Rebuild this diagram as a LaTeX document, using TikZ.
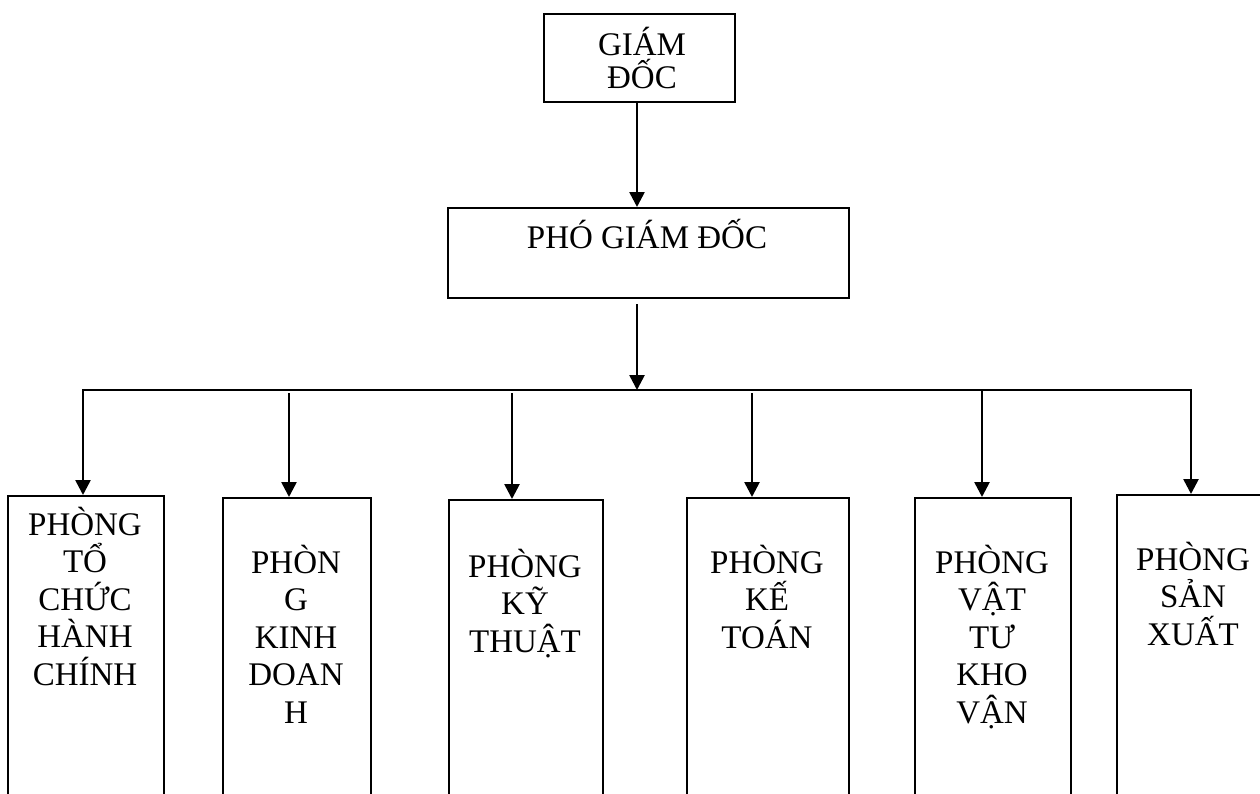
\documentclass[tikz,border=0pt]{standalone}
\usepackage{fontspec}
\setmainfont{Liberation Serif}
\usetikzlibrary{arrows.meta}
\newcommand{\lines}[2][37.5pt]{\vtop{\baselineskip=#1\lineskiplimit=-100pt\lineskip=0pt\halign{\hfil##\hfil\cr#2\crcr}}}
\begin{document}
\begin{tikzpicture}[x=1pt,y=-1pt,
  box/.style={draw, line width=2pt, rectangle, inner sep=0pt, anchor=north west},
  lbl/.style={font=\fontsize{33}{37.5}\selectfont, inner sep=0pt, anchor=base},
  conn/.style={line width=2.6pt, -{Triangle[length=15pt,width=15pt]}},
  tip/.tip={Triangle[length=15pt,width=15pt]}]
\useasboundingbox (0,0) rectangle (1260,793);
% boxes
\node[box, minimum width=191pt, minimum height=88pt] (gd) at (543,13) {};
\node[box, minimum width=401pt, minimum height=90pt] (pgd) at (447,207) {};
\node[box, minimum width=156pt, minimum height=330pt] (b1) at (7,495) {};
\node[box, minimum width=148pt, minimum height=330pt] (b2) at (222,497) {};
\node[box, minimum width=154pt, minimum height=330pt] (b3) at (448,499) {};
\node[box, minimum width=162pt, minimum height=330pt] (b4) at (686,497) {};
\node[box, minimum width=156pt, minimum height=330pt] (b5) at (914,497) {};
\node[box, minimum width=154pt, minimum height=330pt] (b6) at (1116,494) {};
% labels
\node[lbl] (tgd) at (642,55) {\lines[33.3pt]{GIÁM\cr ĐỐC}};
\node[lbl] (tpgd) at (647,248) {PHÓ GIÁM ĐỐC};
\node[lbl] (t1) at (85,535) {\lines{PHÒNG\cr TỔ\cr CHỨC\cr HÀNH\cr CHÍNH}};
\node[lbl] (t2) at (296,573) {\lines{PHÒN\cr G\cr KINH\cr DOAN\cr H}};
\node[lbl] (t3) at (525,577) {\lines{PHÒNG\cr KỸ\cr THUẬT}};
\node[lbl] (t4) at (767,573) {\lines{PHÒNG\cr KẾ\cr TOÁN}};
\node[lbl] (t5) at (992,573) {\lines{PHÒNG\cr VẬT\cr TƯ\cr KHO\cr VẬN}};
\node[lbl] (t6) at (1193,570) {\lines{PHÒNG\cr SẢN\cr XUẤT}};
% connectors
\coordinate (c0) at (637,0);
\draw[conn] (gd.south -| c0) -- (pgd.north -| c0);
\coordinate (bus) at (637,390);
\draw[conn] ([yshift=-5pt]pgd.south -| c0) -- (bus);
\coordinate (busL) at (83,390);
\coordinate (busR) at (1191,390);
\draw[line width=2.6pt, tip-tip] (busR |- b6.north) -- (busR) -- (busL) -- (busL |- b1.north);
\coordinate (j2) at (289,393);
\coordinate (j3) at (512,393);
\coordinate (j4) at (752,393);
\coordinate (j5) at (982,391);
\draw[conn] (j2) -- (j2 |- b2.north);
\draw[conn] (j3) -- (j3 |- b3.north);
\draw[conn] (j4) -- (j4 |- b4.north);
\draw[conn] (j5) -- (j5 |- b5.north);
\end{tikzpicture}
\end{document}
